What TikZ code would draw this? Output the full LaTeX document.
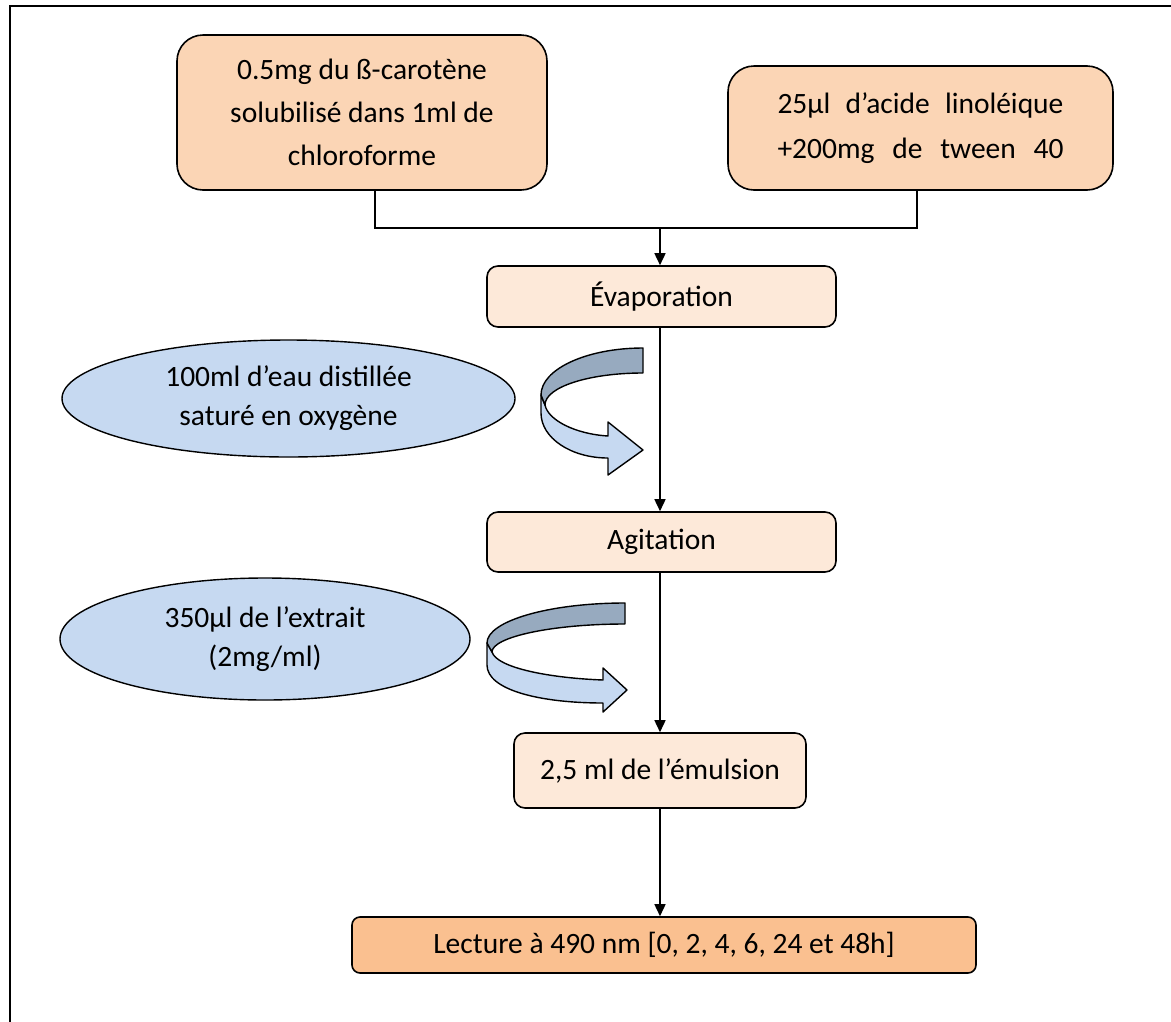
\documentclass[tikz,border=0pt]{standalone}
\usepackage{fontspec}
\setmainfont{Carlito}
\usetikzlibrary{arrows.meta}
\definecolor{peach}{HTML}{FBD5B5}
\definecolor{lightpeach}{HTML}{FDE9D9}
\definecolor{orangebox}{HTML}{FAC090}
\definecolor{lightblue}{HTML}{C6D9F1}
\definecolor{darkband}{HTML}{97AABF}
\tikzset{
  stepbox/.style={draw=black, line width=1.6pt, rounded corners=11pt, fill=lightpeach,
    inner sep=0pt, align=center, font=\fontsize{29.5}{43}\selectfont},
  bigbox/.style={stepbox, fill=peach, rounded corners=26pt},
  inbox/.style={draw=black, line width=1.4pt, ellipse, fill=lightblue, inner sep=0pt,
    align=center, font=\fontsize{29.5}{39}\selectfont},
  conn/.style={line width=1.6pt, draw=black},
  arr/.style={conn, -{Triangle[width=11pt,length=12pt]}},
  band/.style={draw=black, line width=1.4pt, line join=round}
}
\usetikzlibrary{shapes.geometric}
\begin{document}
\begin{tikzpicture}[x=1pt,y=-1pt]
\useasboundingbox (0,0) rectangle (1171,1021);
\fill[white] (0,0) rectangle (1171,1021);
\draw[line width=2pt] (10,6) rectangle (1190,1040);

\node[bigbox, minimum width=370pt, minimum height=155pt] (b1) at (362,112.5)
  {0.5mg du ß-carotène\\solubilisé dans 1ml de\\chloroforme};
\node[bigbox, minimum width=385pt, minimum height=124pt, font=\fontsize{29.5}{45}\selectfont] (b2) at (920.5,128)
  {\makebox[286pt][s]{25µl d’acide linoléique}\\\makebox[286pt][s]{+200mg de tween 40}};
\node[stepbox, minimum width=349pt, minimum height=61pt] (evap) at (661.5,296.5) {Évaporation};
\node[stepbox, minimum width=349pt, minimum height=60pt] (agit) at (661.5,542) {Agitation};
\node[stepbox, minimum width=292pt, minimum height=75pt] (emul) at (660,770.5) {2,5 ml de l’émulsion};
\node[stepbox, fill=orangebox, rounded corners=8pt, minimum width=624pt, minimum height=56pt] (lect) at (664,945)
  {Lecture à 490 nm [0, 2, 4, 6, 24 et 48h]};

\node[inbox, minimum width=453pt, minimum height=117pt] (e1) at (288.5,398.5)
  {100ml d’eau distillée\\saturé en oxygène};
\node[inbox, minimum width=410pt, minimum height=122pt] (e2) at (265,639)
  {350µl de l’extrait\\(2mg/ml)};

\coordinate (jl) at (375,228);
\coordinate (jr) at (917,228);
\coordinate (jm) at (660,228);
\draw[conn] (b1.south -| jl) -- (jl) -- (jr) -- (b2.south -| jr);
\draw[arr] (jm) -- (evap.north -| jm);
\draw[arr] (evap.south -| jm) -- (agit.north -| jm);
\draw[arr] (agit.south -| jm) -- (emul.north -| jm);
\draw[arr] (emul.south -| jm) -- (lect.north -| jm);

% curved arrow 1
\draw[band, fill=lightblue] (541,395) -- (541,413)
  .. controls (541,438) and (571,458) .. (608,458)
  -- (608,475) -- (643,450) -- (608,422) -- (608,436)
  .. controls (575,434) and (548,420) .. (545,405) -- cycle;
\draw[band, fill=darkband] (643,348)
  .. controls (587,348) and (541,369) .. (541,395)
  -- (545,405)
  .. controls (545,387) and (589,373) .. (643,373) -- cycle;

% curved arrow 2
\draw[band, fill=lightblue] (487,643) -- (487,665)
  .. controls (487,690) and (540,703) .. (603,703)
  -- (603,712) -- (627,690) -- (603,668) -- (603,680)
  .. controls (550,678) and (497,668) .. (492,652) -- cycle;
\draw[band, fill=darkband] (625,603)
  .. controls (549,603) and (487,621) .. (487,643)
  -- (492,652)
  .. controls (492,637) and (552,624) .. (625,624) -- cycle;
\end{tikzpicture}
\end{document}
